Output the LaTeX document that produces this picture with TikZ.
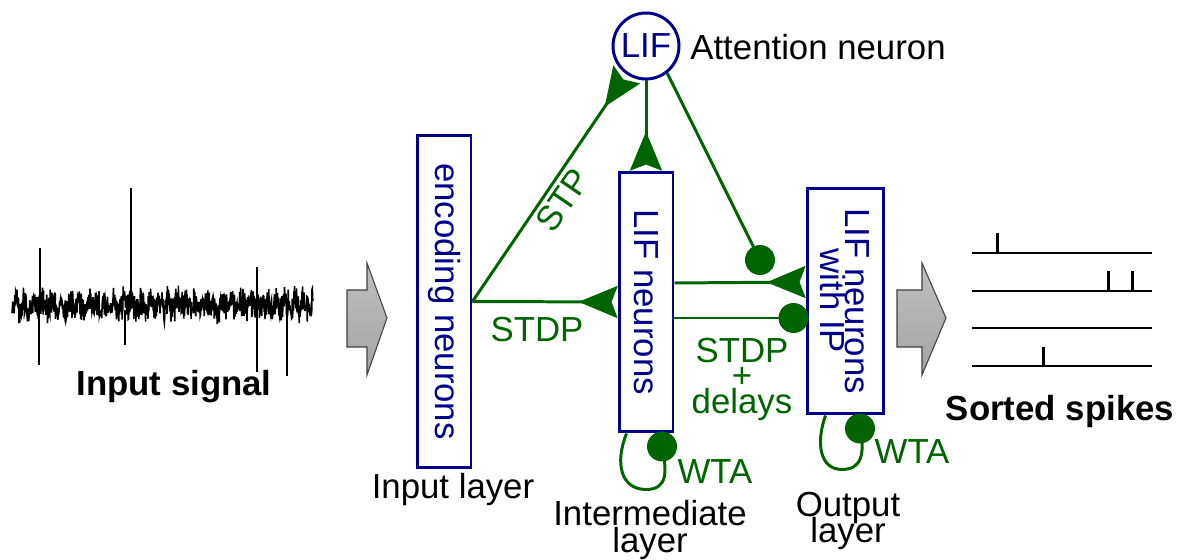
\documentclass[tikz,border=0pt]{standalone}
\usepackage{fontspec}
\setmainfont{Liberation Sans}
\usepackage{graphicx}
\usetikzlibrary{arrows.meta,calc}
\definecolor{navy}{RGB}{0,0,139}
\definecolor{dgreen}{RGB}{0,100,0}
\newcommand\tightfont[1]{\fontsize{19.8}{#1}\selectfont\lineskiplimit=-30pt\relax}
\begin{document}
\begin{tikzpicture}[x=0.02cm, y=-0.02cm, font=\fontsize{19.8}{22}\selectfont,
  box/.style={draw=navy, line width=1.7pt, inner sep=0pt, text=navy},
  conn/.style={draw=dgreen, line width=1.7pt},
  exc/.style={conn, -{Stealth[reversed, length=0.78cm, width=0.64cm, inset=0.12cm]}},
  lbl/.style={inner sep=0pt, text=dgreen},
  blk/.style={inner sep=0pt, text=black},
  bigarrow/.style={draw=gray!50!black, line width=0.6pt, top color=gray!50, bottom color=gray!72},
  dotr/.style={fill=dgreen}
]
\useasboundingbox (0,0) rectangle (1189,560);

% ---- input signal ----
\pgfmathsetseed{12}
\draw[line width=0.9pt] plot[domain=12:313, samples=900] (\x,{305+9*(rand+rand)+4*sin(\x*40)});
\draw[line width=1.2pt] (40,300)--(40,248) (39,310)--(39,365) (131,300)--(131,188)
  (125,310)--(125,345) (257,300)--(257,267) (257,310)--(257,372) (287,310)--(287,376);
\node[blk, font=\fontsize{19.8}{22}\selectfont\bfseries] (insig) at (174,387) {Input signal};

% ---- big gray arrows ----
\draw[bigarrow] (347,290)--(367,290)--(367,263)--(387,318)--(367,375)--(367,347)--(347,347)--cycle;
\draw[bigarrow] (897,290)--(922,290)--(922,263)--(946,318)--(922,375)--(922,347)--(897,347)--cycle;

% ---- layers ----
\node[box, minimum width=1.08cm, minimum height=6.66cm] (enc) at (444,301.5) {\rotatebox{-90}{encoding neurons}};
\node[box, minimum width=1.08cm, minimum height=5.2cm] (mid) at (646,302) {\rotatebox{-90}{LIF neurons}};
\node[box, minimum width=1.52cm, minimum height=4.52cm] (out) at (845,301) {};
\node[inner sep=0pt, text=navy, rotate=-90, align=center, font=\tightfont{14.2}] (outtxt) at (out.center) {LIF neurons\\with IP};
\node[box, circle, minimum size=1.32cm] (lif) at (646,46) {LIF};
\node[blk, anchor=west] (att) at (690,47) {Attention neuron};

% ---- connections ----
\draw[exc] (enc.east) -- (lif);
\draw[exc] (enc.east) -- (mid.west);
\draw[exc] (lif.south) -- (mid.north);
\coordinate (inhA) at (760,260);
\draw[conn] (lif.-52) -- (inhA);
\fill[dotr] (inhA) circle[radius=0.3cm];
\draw[exc] ([yshift=0.38cm]mid.east) -- ([yshift=0.38cm]out.west);
\coordinate (inhB) at ($(out.west)+(-12,17)$);
\draw[conn] (mid.east |- inhB) -- (inhB);
\fill[dotr] (inhB) circle[radius=0.3cm];

% ---- WTA loops ----
\coordinate (wtaM) at ($(mid.south)+(16,13)$);
\draw[conn] ($(mid.south west)+(9,0)$) .. controls +(-12,30) and +(-25,0) .. ($(mid.south)+(0,56)$)
  .. controls +(22,0) and +(5,25) .. (wtaM);
\fill[dotr] (wtaM) circle[radius=0.3cm];
\coordinate (wtaO) at ($(out.south)+(15,13)$);
\draw[conn] ($(out.south west)+(20,0)$) .. controls +(-10,28) and +(-22,0) .. ($(out.south)+(-3,54)$)
  .. controls +(20,0) and +(5,25) .. (wtaO);
\fill[dotr] (wtaO) circle[radius=0.3cm];

% ---- green labels ----
\node[lbl, rotate=55.5] (stp) at (563,200) {STP};
\node[lbl] (stdp1) at (537,330) {STDP};
\node[lbl, align=center, font=\tightfont{14.5}] (stdp2) at (742,379) {STDP\\+\\delays};
\node[lbl] (wta1) at (715,472) {WTA};
\node[lbl] (wta2) at (912,452) {WTA};

% ---- layer labels ----
\node[blk] (inlay) at (453,490) {Input layer};
\node[blk, align=center, font=\tightfont{15.3}] (intlay) at (650,530) {Intermediate\\layer};
\node[blk, align=center, font=\tightfont{15}] (outlay) at (848,521) {Output\\layer};

% ---- sorted spikes ----
\draw[line width=1.7pt] (972,253)--(1152,253) (972,291)--(1152,291) (972,328)--(1152,328) (972,366)--(1152,366);
\draw[line width=1.7pt] (997,253)--(997,233) (1108,291)--(1108,271) (1132,291)--(1132,271) (1043,366)--(1043,347);
\node[blk, font=\fontsize{19.8}{22}\selectfont\bfseries] (sorted) at (1060,412) {Sorted spikes};
\end{tikzpicture}
\end{document}
